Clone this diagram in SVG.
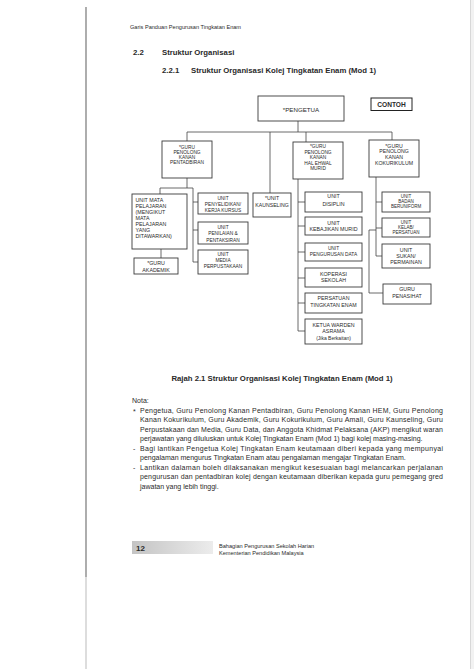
<svg xmlns="http://www.w3.org/2000/svg" width="474" height="669" viewBox="0 0 474 669">
<defs>
<style>
text{font-family:"Liberation Sans",Arial,sans-serif;fill:#2a2a2a}
.b rect{fill:#fff;stroke:#3a3a3a;stroke-width:0.9}
.b text{text-anchor:middle;font-size:4.8px}
.ln{stroke:#444;stroke-width:0.8;fill:none}
.h{font-weight:bold;font-size:7.75px}
.n{font-size:7px}
</style>
<linearGradient id="rule" x1="0" x2="1" y1="0" y2="0">
<stop offset="0" stop-color="#333"/><stop offset="0.45" stop-color="#222"/><stop offset="0.55" stop-color="#777"/><stop offset="1" stop-color="#999"/>
</linearGradient>
<linearGradient id="pg" x1="0" x2="1" y1="0" y2="0">
<stop offset="0" stop-color="#c4c4c4"/><stop offset="1" stop-color="#ececec"/>
</linearGradient>
</defs>
<rect width="474" height="669" fill="#fff"/>
<g id="frame">
<line x1="86" y1="7" x2="86" y2="577" stroke="#777" stroke-width="1.2"/>
<line x1="86" y1="577" x2="86" y2="669" stroke="#bbb" stroke-width="1"/>
<line x1="86" y1="577" x2="462" y2="577" stroke="url(#rule)" stroke-width="1.4"/>
<rect x="470" y="0" width="4" height="669" fill="#f2f2f2"/>
<line x1="470.5" y1="0" x2="470.5" y2="669" stroke="#d0d0d0" stroke-width="0.8"/>
</g>
<text x="130" y="29" font-size="5.6" fill="#555">Garis Panduan Pengurusan Tingkatan Enam</text>
<text class="h" x="133" y="55">2.2</text>
<text class="h" x="162" y="55">Struktur Organisasi</text>
<text class="h" x="162" y="73">2.2.1</text>
<text class="h" x="191" y="73">Struktur Organisasi Kolej Tingkatan Enam (Mod 1)</text>
<g id="connectors" class="ln">
<path d="M298 121V132M187 132H392M187 132V141M270 132V193M306 132V142M392 132V140"/>
<path d="M187 178V188M160 188H193M160 188V194M193 188V262M193 202H198M193 230H198M193 262H198M161 249V258"/>
<path d="M298 179V331M298 202H305M298 226H305M298 252H305M298 278H305M298 303H305M298 331H305"/>
<path d="M376 177V256M376 202H382M376 228H382M376 256H382M369 230H376M369 230V293M369 293H383"/>
</g>
<g id="pengetua" class="b"><rect x="258" y="96" width="86" height="25"/><text x="301" y="112" style="font-size:6.2px">*PENGETUA</text></g>
<g id="contoh"><rect x="371" y="98" width="41" height="12.5" fill="#fff" stroke="#222" stroke-width="1"/><text x="391.5" y="106.8" text-anchor="middle" font-size="6.6" font-weight="bold">CONTOH</text></g>
<g id="gpk-pentadbiran" class="b"><rect x="162" y="141" width="50" height="37"/><text x="187" y="148.5">*GURU</text><text x="187" y="153.8">PENOLONG</text><text x="187" y="159.1">KANAN</text><text x="187" y="164.4">PENTADBIRAN</text></g>
<g id="gpk-hem" class="b"><rect x="293" y="142" width="50" height="37"/><text x="318" y="148.3">*GURU</text><text x="318" y="153.8">PENOLONG</text><text x="318" y="159.3">KANAN</text><text x="318" y="164.8">HAL EHWAL</text><text x="318" y="170.3">MURID</text></g>
<g id="gpk-kokurikulum" class="b"><rect x="369" y="140" width="50" height="37"/><text x="394" y="147.6" style="font-size:5.2px">*GURU</text><text x="394" y="153.4" style="font-size:5.2px">PENOLONG</text><text x="394" y="159.2" style="font-size:5.2px">KANAN</text><text x="394" y="165" style="font-size:5.2px">KOKURIKULUM</text></g>
<g id="unit-mata-pelajaran" class="b"><rect x="132" y="194" width="55" height="55"/>
<text x="135.5" y="202" style="text-anchor:start;font-size:5.3px">UNIT MATA</text><text x="135.5" y="208" style="text-anchor:start;font-size:5.3px">PELAJARAN</text><text x="135.5" y="214" style="text-anchor:start;font-size:5.3px">(MENGIKUT</text><text x="135.5" y="220" style="text-anchor:start;font-size:5.3px">MATA</text><text x="135.5" y="226" style="text-anchor:start;font-size:5.3px">PELAJARAN</text><text x="135.5" y="232" style="text-anchor:start;font-size:5.3px">YANG</text><text x="135.5" y="238" style="text-anchor:start;font-size:5.3px">DITAWARKAN)</text></g>
<g id="guru-akademik" class="b"><rect x="134" y="258" width="44" height="16"/><text x="156" y="265" style="font-size:5.3px">*GURU</text><text x="156" y="271.5" style="font-size:5.3px">AKADEMIK</text></g>
<g id="unit-penyelidikan" class="b"><rect x="198" y="193" width="50" height="21"/><text x="223" y="199.5">UNIT</text><text x="223" y="205.5">PENYELIDIKAN/</text><text x="223" y="211.5">KERJA KURSUS</text></g>
<g id="unit-penilaian" class="b"><rect x="198" y="222" width="50" height="22"/><text x="223" y="228.5">UNIT</text><text x="223" y="235">PENILAIAN &amp;</text><text x="223" y="241.5">PENTAKSIRAN</text></g>
<g id="unit-media" class="b"><rect x="198" y="250" width="50" height="24"/><text x="223" y="256">UNIT</text><text x="223" y="262">MEDIA</text><text x="223" y="268">PERPUSTAKAAN</text></g>
<g id="unit-kaunseling" class="b"><rect x="253" y="193" width="38" height="24"/><text x="272" y="200.2" style="font-size:5.2px">*UNIT</text><text x="272" y="207" style="font-size:5.2px">KAUNSELING</text></g>
<g id="unit-disiplin" class="b"><rect x="305" y="192" width="57" height="20"/><text x="333.5" y="197.5" style="font-size:5.3px">UNIT</text><text x="333.5" y="206" style="font-size:5.3px">DISIPLIN</text></g>
<g id="unit-kebajikan" class="b"><rect x="305" y="217" width="57" height="18"/><text x="333.5" y="224.5" style="font-size:5.3px">UNIT</text><text x="333.5" y="231" style="font-size:5.3px">KEBAJIKAN MURID</text></g>
<g id="unit-data" class="b"><rect x="305" y="243" width="57" height="18"/><text x="333.5" y="250">UNIT</text><text x="333.5" y="256">PENGURUSAN DATA</text></g>
<g id="koperasi" class="b"><rect x="305" y="268" width="57" height="19"/><text x="333.5" y="276" style="font-size:5.3px">KOPERASI</text><text x="333.5" y="281.8" style="font-size:5.3px">SEKOLAH</text></g>
<g id="persatuan-t6" class="b"><rect x="305" y="293" width="57" height="20"/><text x="333.5" y="300" style="font-size:5.3px">PERSATUAN</text><text x="333.5" y="307" style="font-size:5.3px">TINGKATAN ENAM</text></g>
<g id="ketua-warden" class="b"><rect x="305" y="319" width="57" height="25"/><text x="333.5" y="327" style="font-size:5.3px">KETUA WARDEN</text><text x="333.5" y="333" style="font-size:5.3px">ASRAMA</text><text x="333.5" y="339.5" style="font-size:5px">(Jika Berkaitan)</text></g>
<g id="unit-beruniform" class="b"><rect x="382" y="192" width="48" height="20"/><text x="406" y="197.5" style="font-size:4.5px">UNIT</text><text x="406" y="202.5" style="font-size:4.5px">BADAN</text><text x="406" y="207.5" style="font-size:4.5px">BERUNIFORM</text></g>
<g id="unit-kelab" class="b"><rect x="382" y="218" width="48" height="19"/><text x="406" y="224" style="font-size:4.5px">UNIT</text><text x="406" y="229" style="font-size:4.5px">KELAB/</text><text x="406" y="234" style="font-size:4.5px">PERSATUAN</text></g>
<g id="unit-sukan" class="b"><rect x="382" y="244" width="48" height="24"/><text x="406" y="251.5" style="font-size:5.3px">UNIT</text><text x="406" y="257.8" style="font-size:5.3px">SUKAN/</text><text x="406" y="264" style="font-size:5.3px">PERMAINAN</text></g>
<g id="guru-penasihat" class="b"><rect x="383" y="284" width="48" height="20"/><text x="407" y="291.3" style="font-size:5.3px">GURU</text><text x="407" y="298" style="font-size:5.3px">PENASIHAT</text></g>
<text class="h" x="282" y="380.5" text-anchor="middle">Rajah 2.1 Struktur Organisasi Kolej Tingkatan Enam (Mod 1)</text>
<g class="n">
<text x="132" y="402.5">Nota:</text>
<text x="133" y="413.5">*</text>
<text x="140" y="412.5" textLength="303" lengthAdjust="spacing">Pengetua, Guru Penolong Kanan Pentadbiran, Guru Penolong Kanan HEM, Guru Penolong</text>
<text x="140" y="422" textLength="303" lengthAdjust="spacing">Kanan Kokurikulum, Guru Akademik, Guru Kokurikulum, Guru Amali, Guru Kaunseling, Guru</text>
<text x="140" y="431.5" textLength="303" lengthAdjust="spacing">Perpustakaan dan Media, Guru Data, dan Anggota Khidmat Pelaksana (AKP) mengikut waran</text>
<text x="140" y="441">perjawatan yang diluluskan untuk Kolej Tingkatan Enam (Mod 1) bagi kolej masing-masing.</text>
<text x="133" y="450.5">-</text>
<text x="140" y="450.5" textLength="303" lengthAdjust="spacing">Bagi lantikan Pengetua Kolej Tingkatan Enam keutamaan diberi kepada yang mempunyai</text>
<text x="140" y="460">pengalaman mengurus Tingkatan Enam atau pengalaman mengajar Tingkatan Enam.</text>
<text x="133" y="469.5">-</text>
<text x="140" y="469.5" textLength="303" lengthAdjust="spacing">Lantikan dalaman boleh dilaksanakan mengikut kesesuaian bagi melancarkan perjalanan</text>
<text x="140" y="479" textLength="303" lengthAdjust="spacing">pengurusan dan pentadbiran kolej dengan keutamaan diberikan kepada guru pemegang gred</text>
<text x="140" y="488.5">jawatan yang lebih tinggi.</text>
</g>
<g id="footer">
<rect x="132" y="541" width="81" height="13" fill="url(#pg)"/>
<text x="136" y="551" font-size="8" font-weight="bold" fill="#333">12</text>
<text x="219" y="547.5" font-size="5.6" fill="#444">Bahagian Pengurusan Sekolah Harian</text>
<text x="219" y="555" font-size="5.6" fill="#444">Kementerian Pendidikan Malaysia</text>
</g>
</svg>
